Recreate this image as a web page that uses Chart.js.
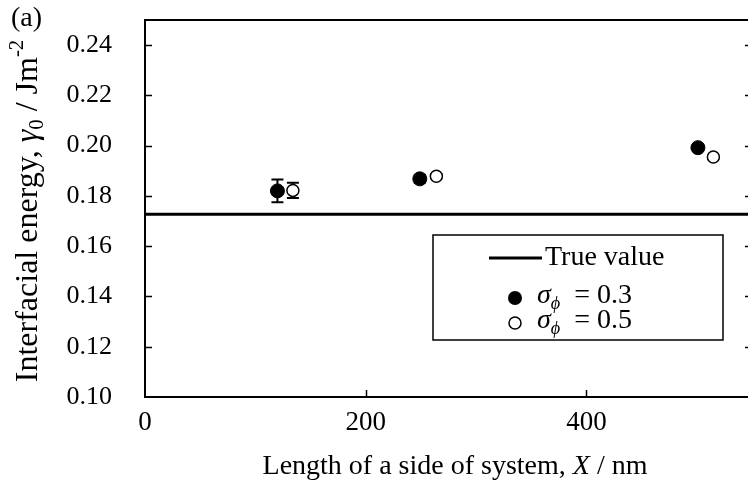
<!DOCTYPE html>
<html>
<head>
<meta charset="utf-8">
<script src="https://cdn.jsdelivr.net/npm/chart.js@4"></script>
<style>
  html, body { margin: 0; padding: 0; overflow: hidden; background: #fff; }
  #wrap { width: 748px; height: 492px; overflow: hidden; }
</style>
</head>
<body>
<div id="wrap"><canvas id="energyChart" width="760" height="492"></canvas></div>
<script>
// System size X (nm) and interfacial energy (J/m^2) for each noise level
const sizes03 = [120, 249, 501];
const gamma03 = [0.1820, 0.1868, 0.1992];
const err03 = [0.0045, 0.0016, 0.0008];

const sizes05 = [134, 264, 515];
const gamma05 = [0.1822, 0.1878, 0.1955];
const err05 = [0.0030, 0.0008, 0.0006];

const trueValue = 0.1727;

const xTicks = [0, 200, 400];
const yTicks = [0.10, 0.12, 0.14, 0.16, 0.18, 0.20, 0.22, 0.24];

const FONT = "'Liberation Serif', 'Times New Roman', serif";

function pts(xs, ys) {
    return xs.map((x, i) => ({ x: x, y: ys[i] }));
}

// draw a run of text pieces (italic / sub / sup), returns total width
function richText(ctx, runs, size, x, y, align) {
    const parts = runs.map(r => {
        const s = r.sub || r.sup ? size * 0.65 : size;
        const f = (r.italic ? "italic " : "") + s + "px " + FONT;
        ctx.font = f;
        return { t: r.t, f: f, w: ctx.measureText(r.t).width, dy: r.sub ? size * 0.28 : r.sup ? -size * 0.35 : 0 };
    });
    const total = parts.reduce((a, p) => a + p.w, 0);
    let cx = align === "center" ? x - total / 2 : x;
    ctx.textBaseline = "middle";
    ctx.textAlign = "left";
    parts.forEach(p => {
        ctx.font = p.f;
        ctx.fillText(p.t, cx, y + p.dy);
        cx += p.w;
    });
    return total;
}

const frame = {
    id: "frame",
    beforeDatasetsDraw(chart) {
        const ctx = chart.ctx;
        const xs = chart.scales.x, ys = chart.scales.y;
        // error bars
        ctx.save();
        ctx.strokeStyle = "#000";
        ctx.lineWidth = 2;
        const bars = [[sizes03, gamma03, err03], [sizes05, gamma05, err05]];
        bars.forEach(([sx, gy, er]) => {
            sx.forEach((v, i) => {
                const px = xs.getPixelForValue(v);
                const top = ys.getPixelForValue(gy[i] + er[i]);
                const bot = ys.getPixelForValue(gy[i] - er[i]);
                ctx.beginPath();
                ctx.moveTo(px, top); ctx.lineTo(px, bot);
                ctx.moveTo(px - 6, top); ctx.lineTo(px + 6, top);
                ctx.moveTo(px - 6, bot); ctx.lineTo(px + 6, bot);
                ctx.stroke();
            });
        });
        ctx.restore();
    },
    afterDraw(chart) {
        const ctx = chart.ctx;
        const a = chart.chartArea;
        const xs = chart.scales.x, ys = chart.scales.y;
        ctx.save();
        ctx.strokeStyle = "#000";
        ctx.lineWidth = 2;
        ctx.strokeRect(a.left, a.top, a.right - a.left, a.bottom - a.top);

        // inward ticks
        ctx.lineWidth = 1.5;
        ctx.beginPath();
        yTicks.forEach(v => {
            const py = Math.round(ys.getPixelForValue(v)) + 0.5;
            if (v === ys.min) return;
            ctx.moveTo(a.left, py); ctx.lineTo(a.left + 7, py);
            ctx.moveTo(a.right, py); ctx.lineTo(a.right - 7, py);
        });
        xTicks.forEach(v => {
            if (v === xs.min) return;
            const px = Math.round(xs.getPixelForValue(v)) + 0.5;
            ctx.moveTo(px, a.bottom); ctx.lineTo(px, a.bottom - 7);
        });
        ctx.stroke();

        // axis titles
        ctx.fillStyle = "#000";
        richText(ctx, [
            { t: "Length of a side of system, " },
            { t: "X", italic: true },
            { t: " / nm" }
        ], 28, 455, 467, "center");

        ctx.save();
        ctx.translate(29, 211);
        ctx.rotate(-Math.PI / 2);
        richText(ctx, [
            { t: "Interfacial energy, " },
            { t: "γ", italic: true },
            { t: "0", sub: true },
            { t: " / Jm" },
            { t: "-2", sup: true }
        ], 32, 0, 0, "center");
        ctx.restore();

        ctx.font = "28px " + FONT;
        ctx.textAlign = "left";
        ctx.textBaseline = "middle";
        ctx.fillText("(a)", 11, 19);

        // legend
        ctx.fillStyle = "#fff";
        ctx.fillRect(433, 235, 290, 105);
        ctx.strokeStyle = "#000";
        ctx.lineWidth = 1.5;
        ctx.strokeRect(433, 235, 290, 105);

        ctx.lineWidth = 3;
        ctx.beginPath();
        ctx.moveTo(489, 258); ctx.lineTo(542, 258);
        ctx.stroke();
        ctx.fillStyle = "#000";
        richText(ctx, [{ t: "True value" }], 28, 545, 258, "left");

        ctx.beginPath();
        ctx.arc(515, 298, 7, 0, Math.PI * 2);
        ctx.fill();
        richText(ctx, [{ t: "σ", italic: true }, { t: "ϕ", italic: true, sub: true }, { t: "  = 0.3" }], 28, 537, 296, "left");

        ctx.beginPath();
        ctx.lineWidth = 1.5;
        ctx.fillStyle = "#fff";
        ctx.arc(515, 323, 6, 0, Math.PI * 2);
        ctx.fill();
        ctx.stroke();
        ctx.fillStyle = "#000";
        richText(ctx, [{ t: "σ", italic: true }, { t: "ϕ", italic: true, sub: true }, { t: "  = 0.5" }], 28, 537, 321, "left");
        ctx.restore();
    }
};

new Chart(document.getElementById("energyChart"), {
    type: "scatter",
    data: {
        datasets: [
            {
                label: "True value",
                type: "line",
                data: [{ x: 0, y: trueValue }, { x: 550, y: trueValue }],
                borderColor: "#000",
                borderWidth: 3,
                pointRadius: 0,
                order: 3
            },
            {
                label: "σϕ = 0.3",
                data: pts(sizes03, gamma03),
                backgroundColor: "#000",
                borderColor: "#000",
                borderWidth: 1,
                pointRadius: 7,
                order: 2
            },
            {
                label: "σϕ = 0.5",
                data: pts(sizes05, gamma05),
                backgroundColor: "#fff",
                borderColor: "#000",
                borderWidth: 1.5,
                pointRadius: 6,
                order: 1
            }
        ]
    },
    options: {
        responsive: false,
        animation: false,
        layout: { padding: { top: 20, right: 7, left: 0, bottom: 0 } },
        plugins: { legend: { display: false }, tooltip: { enabled: false } },
        scales: {
            x: {
                type: "linear",
                min: 0,
                max: 550,
                afterBuildTicks: s => { s.ticks = xTicks.map(v => ({ value: v })); },
                afterFit: s => { s.height = 95; s.paddingLeft = 0; s.paddingRight = 0; },
                grid: { display: false, drawTicks: false },
                border: { display: false },
                ticks: {
                    color: "#000",
                    padding: 10,
                    font: { family: FONT, size: 27 },
                    maxRotation: 0
                }
            },
            y: {
                min: 0.10,
                max: 0.25,
                afterBuildTicks: s => { s.ticks = yTicks.map(v => ({ value: v })); },
                afterFit: s => { s.width = 145; s.paddingTop = 0; s.paddingBottom = 0; },
                grid: { display: false, drawTicks: false },
                border: { display: false },
                ticks: {
                    color: "#000",
                    padding: 33,
                    font: { family: FONT, size: 26 },
                    callback: v => v.toFixed(2)
                }
            }
        }
    },
    plugins: [frame]
});
</script>
</body>
</html>
